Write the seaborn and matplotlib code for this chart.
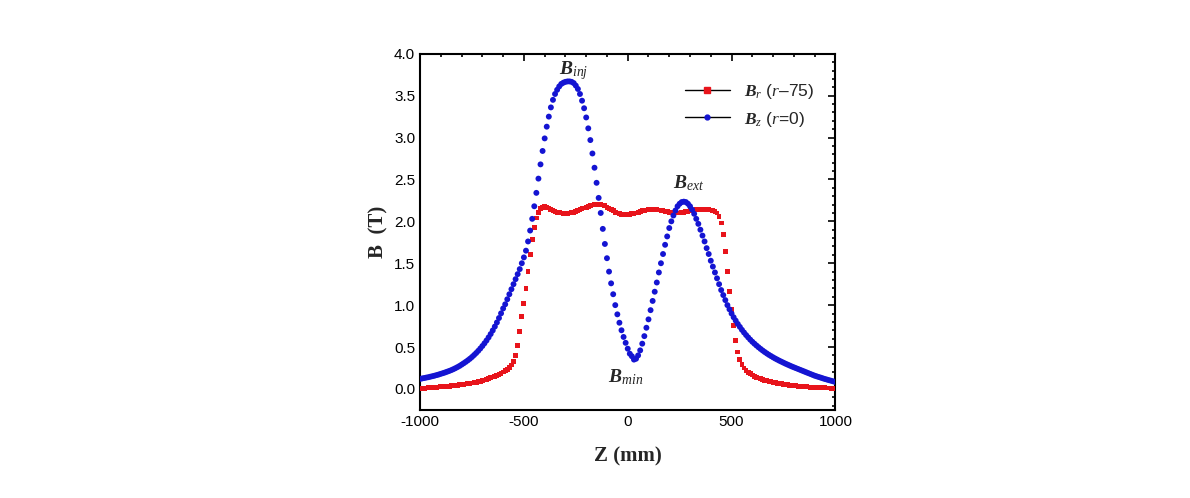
import numpy as np
import matplotlib
matplotlib.use("Agg")
import matplotlib.pyplot as plt
import seaborn as sns
from matplotlib.lines import Line2D
from matplotlib.ticker import MultipleLocator

# Z positions (mm), 10 mm step
z_mm = list(range(-1000, 1001, 10))

# B_z on axis (r=0)
bz_r0 = [
    0.120, 0.125, 0.130, 0.135, 0.140, 0.146, 0.152, 0.158, 0.165, 0.172,
    0.180, 0.188, 0.196, 0.205, 0.214, 0.224, 0.235, 0.247, 0.260, 0.274,
    0.290, 0.306, 0.323, 0.341, 0.360, 0.381, 0.404, 0.428, 0.454, 0.482,
    0.512, 0.544, 0.578, 0.615, 0.655, 0.698, 0.744, 0.793, 0.846, 0.902,
    0.960, 1.010, 1.070, 1.130, 1.190, 1.250, 1.310, 1.370, 1.430, 1.500,
    1.570, 1.650, 1.760, 1.890, 2.030, 2.180, 2.340, 2.510, 2.680, 2.840,
    2.990, 3.130, 3.250, 3.360, 3.450, 3.520, 3.570, 3.610, 3.640, 3.655,
    3.665, 3.670, 3.670, 3.665, 3.650, 3.620, 3.580, 3.520, 3.440, 3.350,
    3.240, 3.110, 2.970, 2.810, 2.640, 2.460, 2.280, 2.100, 1.910, 1.730,
    1.560, 1.400, 1.260, 1.130, 1.000, 0.890, 0.790, 0.700, 0.620, 0.550,
    0.480, 0.420, 0.390, 0.350, 0.360, 0.400, 0.460, 0.540, 0.630, 0.730,
    0.830, 0.940, 1.050, 1.160, 1.270, 1.390, 1.500, 1.610, 1.720, 1.820,
    1.920, 2.000, 2.070, 2.130, 2.180, 2.210, 2.230, 2.235, 2.230, 2.210,
    2.180, 2.140, 2.090, 2.030, 1.970, 1.900, 1.830, 1.760, 1.680, 1.610,
    1.530, 1.460, 1.390, 1.320, 1.250, 1.180, 1.120, 1.060, 1.000, 0.950,
    0.900, 0.855, 0.815, 0.775, 0.740, 0.705, 0.673, 0.643, 0.615, 0.588,
    0.563, 0.540, 0.518, 0.497, 0.477, 0.458, 0.440, 0.423, 0.407, 0.392,
    0.377, 0.363, 0.350, 0.337, 0.325, 0.313, 0.301, 0.290, 0.279, 0.268,
    0.258, 0.248, 0.238, 0.228, 0.218, 0.208, 0.198, 0.188, 0.178, 0.168,
    0.158, 0.150, 0.142, 0.134, 0.126, 0.118, 0.111, 0.104, 0.097, 0.090,
    0.083,
]

# B_r at r=75
br_r75 = [
    0.005, 0.007, 0.009, 0.011, 0.013, 0.015, 0.017, 0.019, 0.021, 0.023,
    0.025, 0.027, 0.029, 0.031, 0.033, 0.036, 0.039, 0.042, 0.045, 0.048,
    0.052, 0.055, 0.059, 0.063, 0.067, 0.071, 0.076, 0.081, 0.087, 0.093,
    0.100, 0.107, 0.115, 0.123, 0.132, 0.142, 0.152, 0.163, 0.175, 0.188,
    0.202, 0.218, 0.236, 0.257, 0.285, 0.330, 0.400, 0.520, 0.690, 0.860,
    1.020, 1.200, 1.400, 1.600, 1.780, 1.930, 2.040, 2.110, 2.150, 2.170,
    2.175, 2.170, 2.160, 2.145, 2.130, 2.120, 2.110, 2.105, 2.100, 2.095,
    2.095, 2.095, 2.100, 2.105, 2.110, 2.120, 2.130, 2.140, 2.150, 2.160,
    2.170, 2.180, 2.190, 2.195, 2.200, 2.205, 2.205, 2.200, 2.195, 2.185,
    2.170, 2.155, 2.140, 2.125, 2.110, 2.100, 2.090, 2.085, 2.080, 2.080,
    2.080, 2.085, 2.090, 2.095, 2.100, 2.110, 2.120, 2.125, 2.130, 2.135,
    2.140, 2.140, 2.140, 2.140, 2.140, 2.135, 2.130, 2.125, 2.120, 2.115,
    2.110, 2.105, 2.100, 2.100, 2.100, 2.100, 2.105, 2.110, 2.115, 2.120,
    2.125, 2.130, 2.135, 2.140, 2.140, 2.145, 2.145, 2.145, 2.140, 2.140,
    2.135, 2.130, 2.120, 2.100, 2.060, 1.980, 1.840, 1.640, 1.400, 1.160,
    0.950, 0.760, 0.580, 0.440, 0.350, 0.290, 0.250, 0.220, 0.198, 0.180,
    0.165, 0.152, 0.140, 0.130, 0.121, 0.113, 0.105, 0.098, 0.091, 0.085,
    0.079, 0.074, 0.069, 0.064, 0.060, 0.056, 0.052, 0.048, 0.045, 0.042,
    0.039, 0.036, 0.033, 0.031, 0.029, 0.027, 0.025, 0.023, 0.021, 0.019,
    0.018, 0.016, 0.015, 0.014, 0.013, 0.012, 0.011, 0.010, 0.009, 0.008,
    0.007,
]

label_r = r"$\mathbfit{B}_{r}$ ($r$–75)"
label_z = r"$\mathbfit{B}_{z}$ ($r$=0)"

sns.set_theme(style="white")
plt.rcParams['font.family'] = ['Liberation Sans', 'DejaVu Sans']
plt.rcParams['axes.unicode_minus'] = False
plt.rcParams['mathtext.fontset'] = 'custom'
plt.rcParams['mathtext.rm'] = 'Liberation Serif'
plt.rcParams['mathtext.it'] = 'Liberation Serif:italic'
plt.rcParams['mathtext.bf'] = 'Liberation Serif:bold'
plt.rcParams['mathtext.bfit'] = 'Liberation Serif:bold:italic'

fig = plt.figure(figsize=(11.9, 4.98), dpi=100)
ax = fig.add_axes([0.353, 0.177, 0.349, 0.715])

sns.scatterplot(x=z_mm, y=br_r75, ax=ax, marker='s', s=12, color='#e8141b',
                edgecolor='none', linewidth=0, zorder=3)
sns.scatterplot(x=z_mm, y=bz_r0, ax=ax, marker='o', s=18, color='#1414d2',
                edgecolor='none', linewidth=0, zorder=4)

ax.set_xlim(-1000, 1000)
ax.set_ylim(-0.25, 4.0)
ax.xaxis.set_major_locator(MultipleLocator(500))
ax.xaxis.set_minor_locator(MultipleLocator(100))
ax.yaxis.set_major_locator(MultipleLocator(0.5))
ax.yaxis.set_minor_locator(MultipleLocator(0.1))
ax.yaxis.set_major_formatter(matplotlib.ticker.FormatStrFormatter('%.1f'))
ax.tick_params(which='both', direction='in', top=True, right=True,
               labelsize=11, color='black', labelcolor='black', width=1.2)
ax.tick_params(which='major', length=5)
ax.tick_params(which='minor', length=2.5)
for sp in ax.spines.values():
    sp.set_color('black')
    sp.set_linewidth(1.5)

ax.set_xlabel('Z (mm)', family='Liberation Serif', fontweight='bold',
              fontsize=15, labelpad=13)
ax.set_ylabel('B  (T)', family='Liberation Serif', fontweight='bold',
              fontsize=15, labelpad=4)

ax.text(-260, 3.80, r"$\mathbfit{B}_{inj}$", fontsize=14, ha='center', va='center')
ax.text(295, 2.45, r"$\mathbfit{B}_{ext}$", fontsize=14, ha='center', va='center')
ax.text(-10, 0.14, r"$\mathbfit{B}_{min}$", fontsize=14, ha='center', va='center')

handles = [
    Line2D([0], [0], color='black', lw=1, marker='s', markersize=4,
           markerfacecolor='#e8141b', markeredgecolor='#e8141b'),
    Line2D([0], [0], color='black', lw=1, marker='o', markersize=3.5,
           markerfacecolor='#1414d2', markeredgecolor='#1414d2'),
]
ax.legend(handles, [label_r, label_z], loc='upper right', frameon=False,
          fontsize=12.5, handlelength=2.6, borderaxespad=0.6, labelspacing=0.5,
          bbox_to_anchor=(0.99, 0.97))

fig.savefig('out.png', dpi=100)
